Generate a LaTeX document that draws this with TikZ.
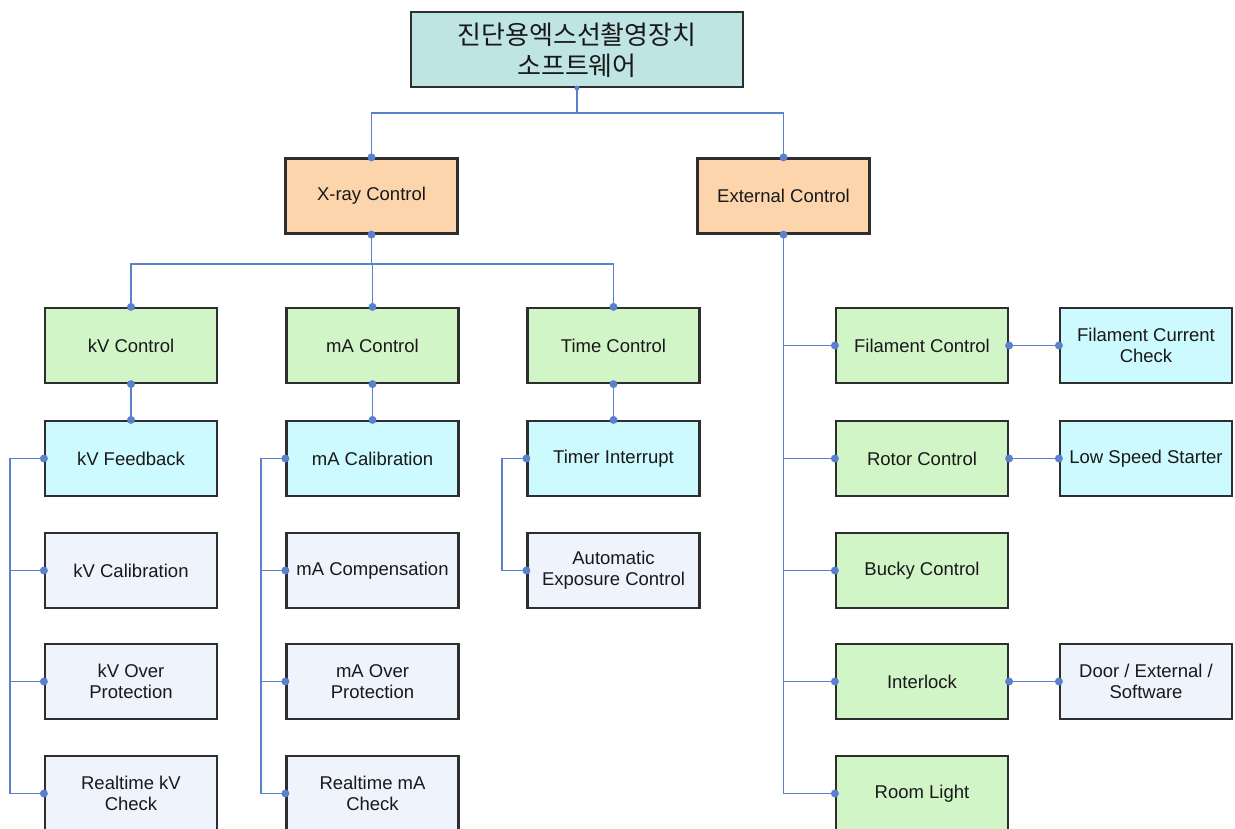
\documentclass[tikz,border=0pt]{standalone}
\usepackage{fontspec}
\setmainfont{Liberation Sans}
\newfontfamily\kofont{Noto Sans CJK KR}
\definecolor{lnc}{HTML}{5B80CC}
\definecolor{bdc}{HTML}{2E2E2E}
\definecolor{tealc}{HTML}{BFE4E4}
\definecolor{orc}{HTML}{FCD5AC}
\definecolor{grc}{HTML}{D2F5C8}
\definecolor{cyc}{HTML}{CCFAFF}
\definecolor{lvc}{HTML}{EEF3FC}
\tikzset{
  box/.style={draw=bdc, line width=2.2pt, minimum width=172pt, minimum height=75pt,
    inner sep=0pt, align=center, text=black!90, font=\fontsize{18.5}{21}\selectfont},
  topbox/.style={box, fill=tealc, minimum width=332pt, font=\kofont\fontsize{26}{31}\selectfont},
  obox/.style={box, fill=orc},
  gbox/.style={box, fill=grc},
  cbox/.style={box, fill=cyc},
  lbox/.style={box, fill=lvc},
  conn/.style={draw=lnc, line width=1.9pt},
}
\newcommand{\jdot}[1]{\fill[lnc] (#1) circle (4pt);}
\newcommand{\kline}[1]{\raisebox{-3.5pt}[20pt][5pt]{#1}}
\begin{document}
\begin{tikzpicture}[x=1pt,y=-1pt]
\useasboundingbox (0,0) rectangle (1235,829);
% nodes
\node[topbox] (top) at (577,49.5) {\kline{진단용엑스선촬영장치}\\\kline{소프트웨어}};
\node[obox] (xray) at (371.5,196) {X-ray Control};
\node[obox] (ext) at (783.5,196) {External Control};
\node[gbox] (kv) at (131,345.5) {kV Control};
\node[gbox] (ma) at (372.5,345.5) {mA Control};
\node[gbox] (time) at (613.5,345.5) {Time Control};
\node[cbox] (kvfb) at (131,458.5) {kV Feedback};
\node[lbox] (kvcal) at (131,570.5) {kV Calibration};
\node[lbox] (kvover) at (131,681.5) {kV Over\\Protection};
\node[lbox] (kvreal) at (131,793.5) {Realtime kV\\Check};
\node[cbox] (macal) at (372.5,458.5) {mA Calibration};
\node[lbox] (macomp) at (372.5,570.5) {mA Compensation};
\node[lbox] (maover) at (372.5,681.5) {mA Over\\Protection};
\node[lbox] (mareal) at (372.5,793.5) {Realtime mA\\Check};
\node[cbox] (timer) at (613.5,458.5) {Timer Interrupt};
\node[lbox] (aec) at (613.5,570.5) {Automatic\\Exposure Control};
\node[gbox] (fil) at (922,345.5) {Filament Control};
\node[cbox] (filcc) at (1146,345.5) {Filament Current\\Check};
\node[gbox] (rotor) at (922,458.5) {Rotor Control};
\node[cbox] (lss) at (1146,458.5) {Low Speed Starter};
\node[gbox] (bucky) at (922,570.5) {Bucky Control};
\node[gbox] (inter) at (922,681.5) {Interlock};
\node[lbox] (door) at (1146,681.5) {Door / External /\\Software};
\node[gbox] (room) at (922,793.5) {Room Light};
% helper coordinates
\coordinate (h1) at (0,113);
\coordinate (h2) at (0,264);
\coordinate (kvb) at (10,0);
\coordinate (mab) at (261,0);
\coordinate (tmb) at (502,0);
% connectors
\draw[conn] (top.south) -- (top.south |- h1) -| (xray.north);
\draw[conn] (top.south |- h1) -| (ext.north);
\draw[conn] (xray.south) -- (xray.south |- h2) -| (kv.north);
\draw[conn] (xray.south |- h2) -| (ma.north);
\draw[conn] (xray.south |- h2) -| (time.north);
\draw[conn] (kv.south) -- (kvfb.north);
\draw[conn] (ma.south) -- (macal.north);
\draw[conn] (time.south) -- (timer.north);
\draw[conn] (kvfb.west) -- (kvb |- kvfb.west) -- (kvb |- kvreal.west) -- (kvreal.west);
\draw[conn] (kvb |- kvcal.west) -- (kvcal.west);
\draw[conn] (kvb |- kvover.west) -- (kvover.west);
\draw[conn] (macal.west) -- (mab |- macal.west) -- (mab |- mareal.west) -- (mareal.west);
\draw[conn] (mab |- macomp.west) -- (macomp.west);
\draw[conn] (mab |- maover.west) -- (maover.west);
\draw[conn] (timer.west) -- (tmb |- timer.west) -- (tmb |- aec.west) -- (aec.west);
\draw[conn] (ext.south) -- (ext.south |- room.west) -- (room.west);
\draw[conn] (ext.south |- fil.west) -- (fil.west);
\draw[conn] (ext.south |- rotor.west) -- (rotor.west);
\draw[conn] (ext.south |- bucky.west) -- (bucky.west);
\draw[conn] (ext.south |- inter.west) -- (inter.west);
\draw[conn] (fil.east) -- (filcc.west);
\draw[conn] (rotor.east) -- (lss.west);
\draw[conn] (inter.east) -- (door.west);
% dots
\fill[lnc] (top.south) circle (2.5pt);
\jdot{xray.north}\jdot{ext.north}\jdot{xray.south}\jdot{ext.south}
\jdot{kv.north}\jdot{ma.north}\jdot{time.north}
\jdot{kv.south}\jdot{ma.south}\jdot{time.south}
\jdot{kvfb.north}\jdot{macal.north}\jdot{timer.north}
\jdot{kvfb.west}\jdot{kvcal.west}\jdot{kvover.west}\jdot{kvreal.west}
\jdot{macal.west}\jdot{macomp.west}\jdot{maover.west}\jdot{mareal.west}
\jdot{timer.west}\jdot{aec.west}
\jdot{fil.west}\jdot{rotor.west}\jdot{bucky.west}\jdot{inter.west}\jdot{room.west}
\jdot{fil.east}\jdot{rotor.east}\jdot{inter.east}
\jdot{filcc.west}\jdot{lss.west}\jdot{door.west}
\end{tikzpicture}
\end{document}
